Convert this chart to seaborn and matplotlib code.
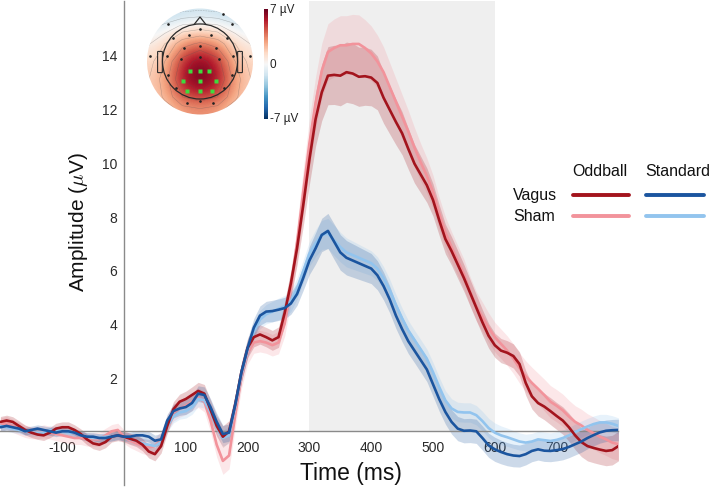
import numpy as np
import pandas as pd
import matplotlib
matplotlib.use("Agg")
import matplotlib.pyplot as plt
import seaborn as sns
from matplotlib.patches import Circle, Polygon, FancyBboxPatch
from matplotlib.lines import Line2D
from matplotlib.cm import ScalarMappable
from matplotlib.colors import Normalize

# ---------------- data ----------------
time_ms = np.arange(-200, 801, 10)

vagus_oddball = [
    0.35, 0.40, 0.35, 0.20, 0.05, -0.05, -0.12, -0.15, -0.05, 0.10,
    0.15, 0.15, 0.05, -0.10, -0.30, -0.45, -0.50, -0.40, -0.20, -0.15,
    -0.20, -0.28, -0.35, -0.50, -0.75, -0.85, -0.55, 0.20, 0.82, 1.10,
    1.20, 1.35, 1.50, 1.40, 0.80, 0.20, -0.20, 0.00, 1.00, 2.20,
    3.10, 3.50, 3.60, 3.50, 3.38, 3.50, 4.40, 5.50, 6.80, 8.40,
    10.10, 11.60, 12.60, 13.22, 13.25, 13.22, 13.35, 13.30, 13.18, 13.20,
    13.15, 12.95, 12.40, 11.95, 11.50, 11.08, 10.50, 9.95, 9.55, 9.15,
    8.60, 7.85, 7.15, 6.70, 6.20, 5.70, 5.15, 4.60, 4.05, 3.55,
    3.20, 3.00, 2.92, 2.80, 2.50, 1.80, 1.30, 1.05, 0.92, 0.75,
    0.57, 0.40, 0.15, -0.15, -0.40, -0.55, -0.62, -0.68, -0.73, -0.70, -0.55]

sham_oddball = [
    0.25, 0.30, 0.20, 0.10, 0.00, -0.05, -0.05, 0.00, -0.05, -0.10,
    -0.15, -0.20, -0.25, -0.25, -0.30, -0.30, -0.30, -0.15, 0.00, 0.05,
    -0.20, -0.35, -0.45, -0.55, -0.60, -0.55, -0.30, 0.30, 0.70, 0.85,
    0.95, 1.10, 1.25, 1.10, 0.40, -0.50, -1.10, -0.90, 0.60, 2.00,
    2.90, 3.30, 3.35, 3.30, 3.20, 3.30, 4.00, 5.30, 7.00, 8.90,
    10.70, 12.20, 13.40, 14.10, 14.25, 14.35, 14.35, 14.40, 14.40, 14.25,
    14.05, 13.75, 13.35, 12.80, 12.25, 11.70, 11.15, 10.55, 10.00, 9.50,
    8.90, 8.10, 7.40, 6.85, 6.35, 5.85, 5.20, 4.65, 4.25, 3.85,
    3.50, 3.25, 3.00, 2.70, 2.35, 2.05, 1.80, 1.58, 1.35, 1.10,
    0.95, 0.78, 0.55, 0.35, 0.22, 0.05, -0.07, -0.20, -0.30, -0.42, -0.48]

vagus_standard = [
    0.15, 0.20, 0.15, 0.10, 0.00, 0.05, 0.10, 0.05, 0.00, -0.05,
    0.00, 0.00, -0.05, -0.15, -0.20, -0.20, -0.25, -0.25, -0.20, -0.15,
    -0.20, -0.20, -0.15, -0.15, -0.20, -0.35, -0.30, 0.40, 0.75, 0.85,
    0.90, 1.05, 1.40, 1.35, 0.90, 0.35, -0.10, -0.05, 1.00, 2.20,
    3.10, 3.85, 4.30, 4.45, 4.47, 4.52, 4.58, 4.75, 5.10, 5.70,
    6.35, 6.80, 7.30, 7.45, 7.05, 6.65, 6.45, 6.35, 6.25, 6.15,
    6.05, 5.80, 5.40, 4.90, 4.30, 3.80, 3.35, 3.00, 2.65, 2.30,
    1.75, 1.20, 0.72, 0.35, 0.10, 0.02, 0.03, 0.00, -0.25, -0.52,
    -0.67, -0.77, -0.85, -0.90, -0.92, -0.85, -0.73, -0.67, -0.72, -0.73,
    -0.70, -0.66, -0.58, -0.48, -0.38, -0.25, -0.14, -0.04, 0.02, 0.04, 0.05]

sham_standard = [
    0.20, 0.15, 0.10, 0.05, 0.00, -0.05, -0.05, -0.05, 0.05, 0.05,
    0.00, -0.05, -0.05, -0.15, -0.20, -0.25, -0.25, -0.20, -0.20, -0.15,
    -0.20, -0.30, -0.35, -0.45, -0.50, -0.55, -0.40, 0.20, 0.55, 0.70,
    0.75, 0.90, 1.20, 1.15, 0.70, 0.15, -0.25, -0.15, 0.90, 2.10,
    3.00, 3.70, 4.15, 4.35, 4.45, 4.55, 4.65, 4.85, 5.30, 5.95,
    6.60, 7.00, 7.30, 7.35, 7.10, 6.85, 6.65, 6.55, 6.45, 6.35,
    6.25, 6.05, 5.70, 5.25, 4.70, 4.20, 3.75, 3.40, 3.05, 2.70,
    2.20, 1.65, 1.15, 0.85, 0.72, 0.70, 0.70, 0.60, 0.38, 0.12,
    -0.05, -0.15, -0.22, -0.30, -0.38, -0.42, -0.38, -0.30, -0.33, -0.36,
    -0.32, -0.25, -0.15, -0.03, 0.08, 0.18, 0.27, 0.33, 0.33, 0.28, 0.20]

# standard error of the mean per series
vagus_oddball_sem = [
    0.20, 0.20, 0.19, 0.19, 0.18, 0.18, 0.18, 0.19, 0.19, 0.20,
    0.20, 0.20, 0.19, 0.19, 0.20, 0.20, 0.21, 0.21, 0.20, 0.20,
    0.20, 0.21, 0.22, 0.23, 0.24, 0.25, 0.26, 0.27, 0.28, 0.28,
    0.29, 0.30, 0.32, 0.34, 0.36, 0.38, 0.40, 0.40, 0.38, 0.36,
    0.36, 0.36, 0.36, 0.36, 0.37, 0.38, 0.42, 0.50, 0.62, 0.78,
    0.92, 1.00, 1.05, 1.08, 1.10, 1.12, 1.12, 1.12, 1.10, 1.08,
    1.05, 1.00, 0.95, 0.90, 0.85, 0.80, 0.76, 0.72, 0.68, 0.64,
    0.60, 0.57, 0.55, 0.53, 0.52, 0.50, 0.49, 0.48, 0.47, 0.46,
    0.45, 0.45, 0.45, 0.45, 0.45, 0.46, 0.47, 0.48, 0.49, 0.50,
    0.50, 0.51, 0.52, 0.53, 0.54, 0.55, 0.55, 0.55, 0.55, 0.55, 0.55]

sham_oddball_sem = [
    0.25, 0.25, 0.24, 0.24, 0.23, 0.23, 0.23, 0.24, 0.24, 0.25,
    0.25, 0.25, 0.24, 0.24, 0.25, 0.25, 0.26, 0.26, 0.25, 0.25,
    0.25, 0.26, 0.27, 0.28, 0.29, 0.30, 0.30, 0.31, 0.32, 0.32,
    0.33, 0.34, 0.36, 0.38, 0.42, 0.46, 0.50, 0.50, 0.46, 0.42,
    0.40, 0.40, 0.40, 0.40, 0.40, 0.42, 0.46, 0.55, 0.68, 0.82,
    0.92, 0.98, 1.02, 1.05, 1.08, 1.10, 1.10, 1.10, 1.08, 1.05,
    1.02, 0.98, 0.94, 0.90, 0.86, 0.82, 0.78, 0.74, 0.70, 0.66,
    0.62, 0.60, 0.58, 0.57, 0.56, 0.55, 0.55, 0.55, 0.55, 0.55,
    0.55, 0.55, 0.55, 0.55, 0.56, 0.57, 0.58, 0.58, 0.59, 0.60,
    0.60, 0.60, 0.60, 0.60, 0.60, 0.60, 0.60, 0.60, 0.60, 0.60, 0.60]

vagus_standard_sem = [
    0.15, 0.15, 0.14, 0.14, 0.14, 0.14, 0.14, 0.15, 0.15, 0.15,
    0.15, 0.15, 0.15, 0.15, 0.15, 0.15, 0.16, 0.16, 0.16, 0.16,
    0.16, 0.17, 0.18, 0.19, 0.20, 0.21, 0.22, 0.24, 0.25, 0.26,
    0.27, 0.28, 0.29, 0.30, 0.31, 0.32, 0.32, 0.32, 0.32, 0.32,
    0.33, 0.34, 0.36, 0.38, 0.40, 0.40, 0.40, 0.40, 0.42, 0.46,
    0.52, 0.58, 0.62, 0.65, 0.66, 0.66, 0.64, 0.62, 0.60, 0.58,
    0.56, 0.54, 0.52, 0.50, 0.48, 0.47, 0.46, 0.45, 0.45, 0.45,
    0.45, 0.45, 0.45, 0.45, 0.45, 0.45, 0.45, 0.45, 0.45, 0.45,
    0.45, 0.44, 0.43, 0.42, 0.41, 0.40, 0.40, 0.40, 0.40, 0.40,
    0.40, 0.40, 0.40, 0.40, 0.40, 0.40, 0.40, 0.40, 0.40, 0.40, 0.40]

sham_standard_sem = [
    0.15, 0.15, 0.15, 0.14, 0.14, 0.14, 0.14, 0.14, 0.15, 0.15,
    0.15, 0.15, 0.15, 0.15, 0.15, 0.16, 0.16, 0.16, 0.16, 0.16,
    0.16, 0.17, 0.18, 0.19, 0.20, 0.21, 0.22, 0.23, 0.24, 0.25,
    0.26, 0.27, 0.28, 0.29, 0.30, 0.30, 0.30, 0.30, 0.30, 0.30,
    0.31, 0.32, 0.34, 0.36, 0.38, 0.40, 0.40, 0.40, 0.40, 0.42,
    0.46, 0.50, 0.54, 0.56, 0.56, 0.55, 0.54, 0.52, 0.50, 0.48,
    0.46, 0.44, 0.42, 0.40, 0.39, 0.38, 0.37, 0.36, 0.36, 0.36,
    0.36, 0.36, 0.36, 0.36, 0.36, 0.36, 0.36, 0.36, 0.36, 0.36,
    0.36, 0.35, 0.34, 0.33, 0.32, 0.31, 0.30, 0.30, 0.30, 0.30,
    0.30, 0.30, 0.30, 0.30, 0.30, 0.30, 0.30, 0.30, 0.30, 0.30, 0.30]

conditions = ["Sham oddball", "Sham standard", "Vagus oddball", "Vagus standard"]
palette = {"Vagus oddball": "#a3141d", "Sham oddball": "#f2939b",
           "Vagus standard": "#1b559f", "Sham standard": "#92c4ee"}

xtick_values = [-200, -100, 0, 100, 200, 300, 400, 500, 600, 700, 800]
xtick_labels = ["", "-100", "", "100", "200", "300", "400", "500", "600", "700", ""]
ytick_values = [-2, 0, 2, 4, 6, 8, 10, 12, 14, 16]
ytick_labels = ["", "", "2", "4", "6", "8", "10", "12", "14", ""]
window_ms = [300, 600]

# topography (µV, approximate grid, rows top->bottom)
topo_grid = np.array([
    [-1.8, -1.8, -1.5, -1.3, -1.5, -1.8, -1.8],
    [-0.5, 0.3, 1.2, 1.5, 1.2, 0.3, -0.5],
    [0.8, 2.0, 3.6, 4.2, 3.6, 2.0, 0.8],
    [1.4, 3.0, 5.4, 6.4, 5.4, 3.0, 1.4],
    [1.8, 3.5, 6.0, 7.0, 6.0, 3.5, 1.8],
    [1.8, 3.2, 5.0, 5.6, 5.0, 3.2, 1.8],
    [1.3, 2.2, 3.0, 3.2, 3.0, 2.2, 1.3]])
roi_x = [-0.19, 0.0, 0.175, -0.33, 0.0, 0.31, -0.24, 0.0, 0.23]
roi_y = [-0.18, -0.18, -0.18, -0.37, -0.37, -0.37, -0.56, -0.56, -0.56]
elec_x = [-0.5, -0.2, 0.2, 0.5, 0.0, -0.3, 0.0, 0.3, -0.62, -0.35, 0.0, 0.35, 0.62,
          -0.6, 0.6, -0.45, 0.45, 0.0, -0.25, 0.25, 0.43, -0.6, 0.6, -0.95, 0.95]
elec_y = [0.45, 0.5, 0.5, 0.45, 0.62, 0.25, 0.3, 0.25, 0.1, 0.05, 0.08, 0.05, 0.1,
          -0.25, -0.25, -0.5, -0.5, -0.75, -0.78, -0.78, 0.9, 0.7, 0.7, 0.1, 0.1]

# ---------------- style ----------------
sns.set_theme(style="white")
plt.rcParams["font.family"] = ["Liberation Sans", "DejaVu Sans"]
plt.rcParams["mathtext.fontset"] = "cm"

fig = plt.figure(figsize=(7.09, 4.89), dpi=100)
W, H = 709, 489
ax = fig.add_axes([0.4 / W, 2.9 / H, 618 / W, 484.2 / H])
ax.patch.set_alpha(0)

# long-form frame: two observations per time point (mean ± sem) so that
# seaborn's "se" error band reproduces mean ± sem
series = {"Vagus oddball": (vagus_oddball, vagus_oddball_sem),
          "Sham oddball": (sham_oddball, sham_oddball_sem),
          "Vagus standard": (vagus_standard, vagus_standard_sem),
          "Sham standard": (sham_standard, sham_standard_sem)}
rows = []
for cond in conditions:
    m, s = series[cond]
    m = np.asarray(m); s = np.asarray(s)
    for sign in (-1, 1):
        rows.append(pd.DataFrame({"time": time_ms, "amp": m + sign * s, "cond": cond}))
df = pd.concat(rows, ignore_index=True)

ax.fill_between(window_ms, 0, 16, color="#efefef", lw=0, zorder=0)

sns.lineplot(data=df, x="time", y="amp", hue="cond", hue_order=conditions,
             palette=palette, errorbar="se", linewidth=1.9, legend=False,
             err_kws={"alpha": 0.22, "linewidth": 0}, ax=ax)

ax.set_xlim(-200, 800)
ax.set_ylim(-2, 16)
ax.set_xlabel("")
ax.set_ylabel("")
for side in ("top", "right"):
    ax.spines[side].set_visible(False)
ax.spines["left"].set_position(("data", 0))
ax.spines["bottom"].set_position(("data", 0))
for side in ("left", "bottom"):
    ax.spines[side].set_color("#8a8a8a")
    ax.spines[side].set_linewidth(1.0)
    ax.spines[side].set_zorder(1.5)
ax.set_xticks(xtick_values)
ax.set_xticklabels(xtick_labels)
ax.set_yticks(ytick_values)
ax.set_yticklabels(ytick_labels)
ax.tick_params(axis="x", direction="in", length=5, width=1, color="#8a8a8a",
               labelcolor="#2a2a2a", labelsize=10, pad=6)
ax.tick_params(axis="y", direction="in", length=5, width=1, color="#8a8a8a",
               labelcolor="#2a2a2a", labelsize=10, pad=5)

fig.text(351 / W, 1 - 480 / H, "Time (ms)", ha="center", va="baseline",
         fontsize=16.5, color="#111111")
fig.text(78 / W, 1 - 222 / H, r"Amplitude ($\mu$V)", rotation=90, ha="center",
         va="center", fontsize=15, color="#111111")

# legend
fig.text(572 / W, 1 - 172 / H, "Oddball", ha="left", va="center", fontsize=11.5, color="#111111")
fig.text(645 / W, 1 - 172 / H, "Standard", ha="left", va="center", fontsize=11.5, color="#111111")
fig.text(513 / W, 1 - 196 / H, "Vagus", ha="left", va="center", fontsize=11.5, color="#111111")
fig.text(513 / W, 1 - 217 / H, "Sham", ha="left", va="center", fontsize=11.5, color="#111111")
for x0, x1, y, c in [(573, 629, 196, palette["Vagus oddball"]),
                     (573, 629, 217, palette["Sham oddball"]),
                     (646, 704, 196, palette["Vagus standard"]),
                     (646, 704, 217, palette["Sham standard"])]:
    fig.add_artist(Line2D([x0 / W, x1 / W], [1 - y / H, 1 - y / H], color=c,
                          lw=2.8, transform=fig.transFigure))

# topographic inset
tax = fig.add_axes([144 / W, 1 - 118.5 / H, 112 / W, 112 / H])
tax.set_xlim(-1.0566, 1.0566)
tax.set_ylim(-1.0566, 1.0566)
tax.axis("off")
im = tax.imshow(topo_grid, extent=[-1, 1, -1, 1], cmap="RdBu_r", vmin=-7, vmax=7,
                interpolation="bicubic", origin="upper")
clip = Circle((0, 0), 1.0, transform=tax.transData)
im.set_clip_path(clip)
gx = np.linspace(-1, 1, topo_grid.shape[1])
gy = np.linspace(1, -1, topo_grid.shape[0])
cs = tax.contour(gx, gy, topo_grid, levels=[-1, 0, 1, 2, 3, 4, 5, 6],
                 colors="#555555", linewidths=0.35, alpha=0.4)
cs.set_clip_path(Circle((0, 0), 1.0, transform=tax.transData))
tax.add_patch(Circle((0, 0), 0.708, fill=False, lw=0.9, ec="#2a2a2a"))
tax.add_patch(Polygon([(-0.11, 0.70), (0, 0.84), (0.11, 0.70)], closed=False,
                      fill=False, lw=0.9, ec="#2a2a2a"))
tax.add_patch(FancyBboxPatch((-0.79, -0.2), 0.07, 0.38, boxstyle="round,pad=0.01",
                             fill=False, lw=0.8, ec="#2a2a2a"))
tax.add_patch(FancyBboxPatch((0.72, -0.2), 0.07, 0.38, boxstyle="round,pad=0.01",
                             fill=False, lw=0.8, ec="#2a2a2a"))
tax.plot(elec_x, elec_y, ls="none", marker="o", ms=0.9, color="#222222")
tax.plot(roi_x, roi_y, ls="none", marker="s", ms=2.6, color="#3ddc3d", mec="none")

cax = fig.add_axes([264 / W, 1 - 120 / H, 3.5 / W, 110 / H])
cb = fig.colorbar(ScalarMappable(norm=Normalize(-7, 7), cmap="RdBu_r"), cax=cax, ticks=[])
cb.outline.set_visible(False)
fig.text(270 / W, 1 - 10 / H, "7 µV", ha="left", va="center", fontsize=8.5, color="#222222")
fig.text(270 / W, 1 - 65 / H, "0", ha="left", va="center", fontsize=8.5, color="#222222")
fig.text(269.5 / W, 1 - 119 / H, "-7 µV", ha="left", va="center", fontsize=8.5, color="#222222")

fig.savefig("out.png", dpi=100)
